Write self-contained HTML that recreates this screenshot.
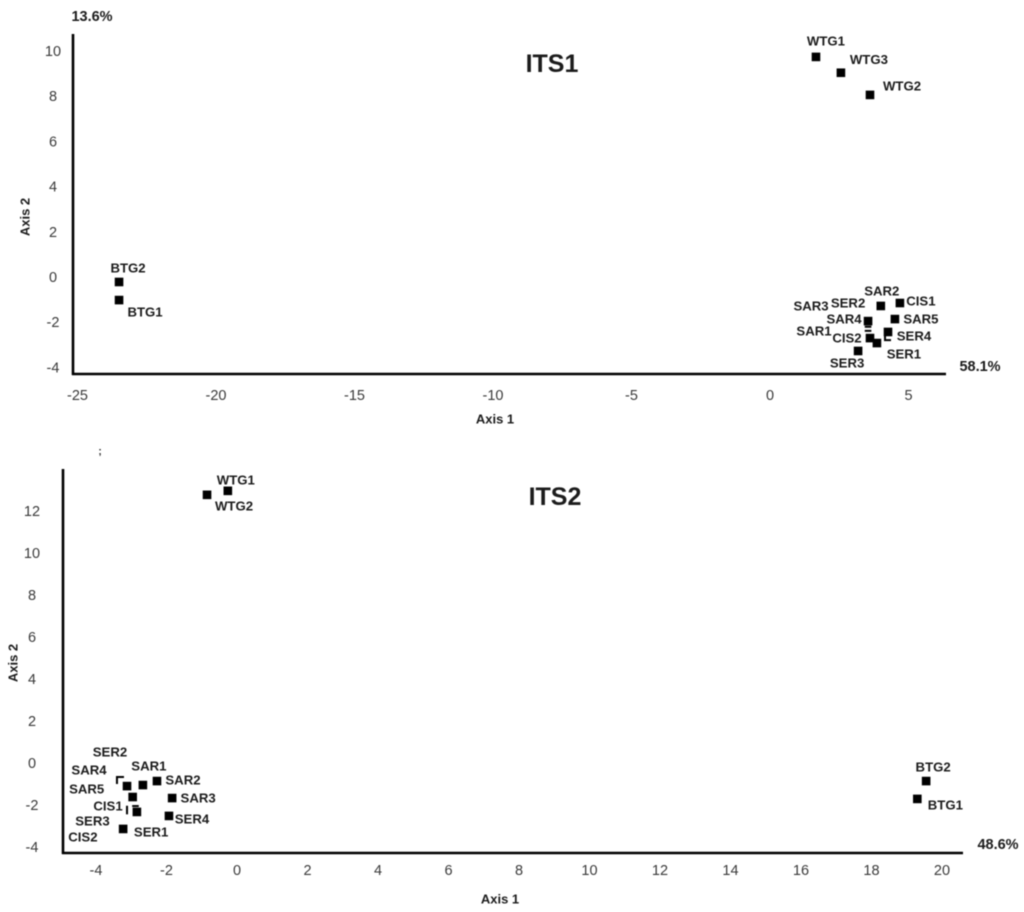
<!DOCTYPE html>
<html lang="en">
<head>
<meta charset="utf-8">
<title>ITS1 and ITS2 PCoA scatter plots</title>
<style>
html,body{margin:0;padding:0;background:#fff;}
#figure{display:block;width:1024px;height:912px;filter:blur(0.5px);}
text{font-family:"Liberation Sans",sans-serif;}
.tick{font-size:14.5px;fill:#3a3a3a;text-anchor:middle;dominant-baseline:central;}
.lab{font-size:13.2px;font-weight:bold;fill:#1c1c1c;text-anchor:middle;dominant-baseline:central;}
.ttl{font-size:25px;font-weight:bold;fill:#1c1c1c;text-anchor:middle;dominant-baseline:central;}
.pct{font-size:14.5px;font-weight:bold;fill:#1c1c1c;text-anchor:middle;dominant-baseline:central;}
.axt{font-size:13px;font-weight:bold;fill:#1c1c1c;text-anchor:middle;dominant-baseline:central;}
</style>
</head>
<body>
<svg id="figure" xmlns="http://www.w3.org/2000/svg" width="1024" height="912" viewBox="0 0 1024 912"></svg>
<script>
/* ITS1 data */
const its1Samples = ['WTG1','WTG3','WTG2','BTG2','BTG1','SAR2','CIS1','SAR5','SER2','SAR3','SAR4','SER4','SAR1','CIS2','SER1','SER3'];
const its1Axis1 = [1.66,2.56,3.61,-23.5,-23.5,4.0,4.69,4.51,3.54,3.54,3.54,4.26,4.26,3.61,3.86,3.18];
const its1Axis2 = [9.73,9.03,8.05,-0.22,-1.02,-1.28,-1.15,-1.86,-2.2,-2.38,-1.95,-2.43,-2.7,-2.7,-2.92,-3.27];
const its1XTicks = [-25,-20,-15,-10,-5,0,5];
const its1YTicks = [10,8,6,4,2,0,-2,-4];

/* ITS2 data */
const its2Samples = ['WTG1','WTG2','BTG2','BTG1','SER2','SAR4','SAR1','SAR2','SAR5','SAR3','SER3','CIS1','CIS2','SER4','SER1'];
const its2Axis1 = [-0.26,-0.85,19.55,19.3,-3.32,-3.12,-2.67,-2.27,-2.96,-1.84,-2.88,-3.12,-2.84,-1.93,-3.23];
const its2Axis2 = [12.96,12.77,-0.86,-1.71,-0.81,-1.1,-1.05,-0.86,-1.62,-1.67,-2.05,-2.24,-2.33,-2.52,-3.14];
const its2XTicks = [-4,-2,0,2,4,6,8,10,12,14,16,18,20];
const its2YTicks = [12,10,8,6,4,2,0,-2,-4];

/* Label nudges relative to each marker, and marker fragments left by overlapping labels */
const its1Nudge = {WTG1:[10,-16],WTG3:[28,-13],WTG2:[32,-9],BTG2:[9,-14],BTG1:[26,12],SAR2:[1,-15],CIS1:[21,-2],SAR5:[26,0],SER2:[-20,-24],SAR3:[-57,-25],SAR4:[-24,-2],SER4:[26,4],SAR1:[-74,-7],CIS2:[-23,0],SER1:[27,11],SER3:[-11,12]};
const its2Nudge = {WTG1:[8,-11],WTG2:[27,11],BTG2:[7,-14],BTG1:[28,6],SER2:[-10,-28],SAR4:[-38,-16],SAR1:[6,-19],SAR2:[26,-1],SAR5:[-46,-8],SAR3:[26,0],SER3:[-43,15],CIS1:[-19,-4],CIS2:[-54,25],SER4:[23,3],SER1:[28,3]};
const its1Partial = {SER2:'hbar',SAR3:'hbar',SAR1:'corner-bl'};
const its2Partial = {SER2:'corner-tl',SER3:'hbar',CIS1:'vbar'};

const NS = 'http://www.w3.org/2000/svg';
const root = document.getElementById('figure');

function add(parent, tag, attrs, text){
  const el = document.createElementNS(NS, tag);
  for (const k in attrs) el.setAttribute(k, attrs[k]);
  if (text !== undefined) el.textContent = text;
  parent.appendChild(el);
  return el;
}

function drawMarker(g, px, py, kind){
  const s = 4.3;
  let m;
  if (kind === 'hbar') {
    m = add(g, 'rect', {x:px-s+1, y:py-1, width:2*s-2, height:2, fill:'#000'});
  } else if (kind === 'vbar') {
    m = add(g, 'rect', {x:px-1, y:py-s, width:2, height:2*s, fill:'#000'});
  } else if (kind === 'corner-bl') {
    m = add(g, 'path', {d:`M${px-3} ${py-4}V${py+2}H${px+3}`, fill:'none', stroke:'#000', 'stroke-width':2});
  } else if (kind === 'corner-tl') {
    m = add(g, 'path', {d:`M${px-3} ${py+4}V${py-3}H${px+4}`, fill:'none', stroke:'#000', 'stroke-width':2});
  } else {
    m = add(g, 'rect', {x:px-s, y:py-s, width:2*s, height:2*s, fill:'#000'});
  }
  return m;
}

function drawChart(cfg){
  const g = add(root, 'g', {});
  
  
  const sx = v => cfg.x0 + v * cfg.xUnit;
  const sy = v => cfg.y0 - v * cfg.yUnit;

  const yLine = add(g, 'line', {x1:cfg.axisX, x2:cfg.axisX, y1:cfg.axisTop, y2:cfg.axisY+1, stroke:'#000', 'stroke-width':2.6});
  
  
  const xLine = add(g, 'line', {x1:cfg.axisX-1, x2:cfg.axisEnd, y1:cfg.axisY, y2:cfg.axisY, stroke:'#000', 'stroke-width':2.6});
  
  

  cfg.xTicks.forEach(v => {
    const t = add(g, 'text', {class:'tick', x:sx(v), y:cfg.xTickY}, String(v));
    
    
  });
  cfg.yTicks.forEach(v => {
    const t = add(g, 'text', {class:'tick', x:cfg.yTickX, y:sy(v) + 1}, String(v));
    
    
  });

  const order = cfg.samples.map((_, i) => i).sort((a, b) => (cfg.partial[cfg.samples[b]] ? 1 : 0) - (cfg.partial[cfg.samples[a]] ? 1 : 0));
  order.forEach(i => {
    const name = cfg.samples[i];
    const px = sx(cfg.xs[i]);
    const py = sy(cfg.ys[i]);
    const m = drawMarker(g, px, py, cfg.partial[name]);
    
    
    const n = cfg.nudge[name] || [0, -14];
    const l = add(g, 'text', {class:'lab', x:px + n[0], y:py + n[1]}, name);
    
    
  });
}

drawChart({id:'its1', samples:its1Samples, xs:its1Axis1, ys:its1Axis2, xTicks:its1XTicks, yTicks:its1YTicks,
  nudge:its1Nudge, partial:its1Partial, x0:770, xUnit:27.7, y0:277, yUnit:22.62,
  axisX:73, axisTop:34, axisY:374, axisEnd:946, xTickY:396, yTickX:53});
drawChart({id:'its2', samples:its2Samples, xs:its2Axis1, ys:its2Axis2, xTicks:its2XTicks, yTicks:its2YTicks,
  nudge:its2Nudge, partial:its2Partial, x0:237, xUnit:35.25, y0:763, yUnit:21,
  axisX:63, axisTop:469, axisY:853, axisEnd:963, xTickY:871, yTickX:32});

const title1 = add(root, 'text', {class:'ttl', x:552, y:64}, 'ITS1');


const title2 = add(root, 'text', {class:'ttl', x:555, y:497}, 'ITS2');



const pct1y = add(root, 'text', {class:'pct', x:92, y:17}, '13.6%');


const pct1x = add(root, 'text', {class:'pct', x:980, y:367}, '58.1%');


const pct2x = add(root, 'text', {class:'pct', x:998, y:845}, '48.6%');


const stray = add(root, 'text', {class:'axt', x:100, y:452, style:'font-size:10px'}, ';');



const ax1x = add(root, 'text', {class:'axt', x:495, y:419}, 'Axis 1');


const ax1y = add(root, 'text', {class:'axt', x:25, y:217, transform:'rotate(-90 25 217)'}, 'Axis 2');


const ax2x = add(root, 'text', {class:'axt', x:500, y:899}, 'Axis 1');


const ax2y = add(root, 'text', {class:'axt', x:13, y:663, transform:'rotate(-90 13 663)'}, 'Axis 2');


</script>
</body>
</html>
